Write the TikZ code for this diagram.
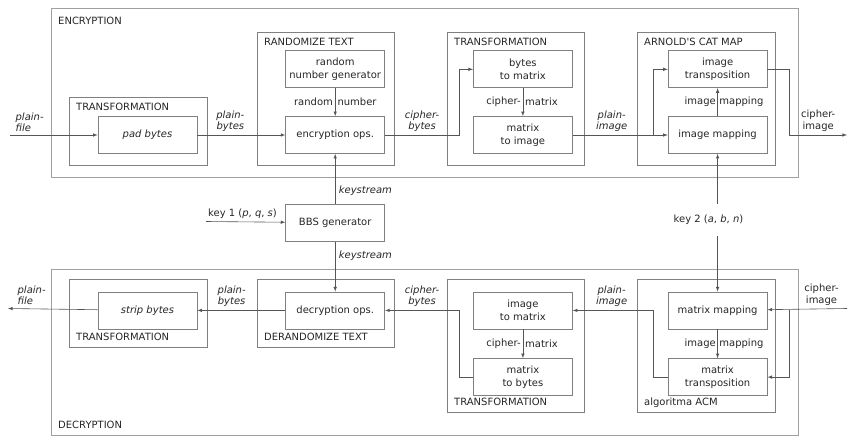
\documentclass[tikz,border=0pt]{standalone}
\usepackage{fontspec}
\setmainfont{DejaVu Sans}
\usepackage{tikz}
\usetikzlibrary{arrows, positioning, calc}
\definecolor{linegray}{HTML}{555555}
\definecolor{boxgray}{HTML}{808080}
\definecolor{framegray}{HTML}{A0A0A0}
\tikzstyle{arrow} = [->, >=latex, draw=linegray, line width=0.6pt]
\tikzstyle{opbox} = [rectangle, draw=boxgray, line width=0.7pt, minimum width=99pt, minimum height=37pt, align=center, text centered]
\tikzstyle{groupbox} = [draw=boxgray, line width=0.7pt]
\tikzstyle{outerbox} = [draw=framegray, line width=1pt]
\tikzstyle{title} = [inner xsep=7pt, inner ysep=6pt, text depth=0pt]
\tikzstyle{flowlabel} = [align=center, font=\fontsize{10pt}{11pt}\selectfont\itshape]
\tikzstyle{flowtext} = [align=center, font=\fontsize{10pt}{11.5pt}\selectfont]

\begin{document}
\begin{tikzpicture}[x=1pt, y=-1pt, node distance=28pt, font=\fontsize{10pt}{13.5pt}\selectfont, text=black!85]
  \useasboundingbox (0,0) rectangle (852,442);

  % Frames
  \draw[outerbox] (51,8) rectangle (798,177);
  \draw[outerbox] (51,269) rectangle (798,435);
  \draw[groupbox] (69,97) rectangle (207,165);
  \draw[groupbox] (257,32) rectangle (394,165);
  \draw[groupbox] (447,32) rectangle (584,165);
  \draw[groupbox] (637,32) rectangle (775,165);
  \draw[groupbox] (69,279) rectangle (207,347);
  \draw[groupbox] (257,279) rectangle (394,347);
  \draw[groupbox] (447,279) rectangle (584,412);
  \draw[groupbox] (637,279) rectangle (775,412);

  % Titles
  \node (enctitle) [title, inner ysep=9pt, anchor=north west] at (51,8) {ENCRYPTION};
  \node (t1title) [title, anchor=north west] at (69,97) {TRANSFORMATION};
  \node (rttitle) [title, anchor=north west] at (257,32) {RANDOMIZE TEXT};
  \node (t2title) [title, anchor=north west] at (447,32) {TRANSFORMATION};
  \node (acmtitle) [title, anchor=north west] at (637,32) {ARNOLD\textquotesingle S CAT MAP};
  \node (dectitle) [title, anchor=south west] at (51,435) {DECRYPTION};
  \node (t3title) [title, anchor=south west] at (69,347) {TRANSFORMATION};
  \node (dttitle) [title, anchor=south west] at (257,347) {DERANDOMIZE TEXT};
  \node (t4title) [title, anchor=south west] at (447,412) {TRANSFORMATION};
  \node (acm2title) [title, anchor=south west] at (637,412) {algoritma ACM};

  % Encryption nodes
  \node (pad) [opbox] at (147.5,135) {\textit{pad bytes}};
  \node (encops) [opbox, right=88pt of pad] {encryption ops.};
  \node (rng) [opbox, above=of encops] {random\\number generator};
  \node (m2i) [opbox, right=88pt of encops] {matrix\\to image};
  \node (b2m) [opbox, above=of m2i] {bytes\\to matrix};
  \node (imap) [opbox, right=95pt of m2i] {image mapping};
  \node (itrans) [opbox, above=of imap] {image\\transposition};
  \coordinate (pfin) at (10,135);
  \coordinate (ciout) at (847,135);

  % Key nodes
  \node (bbs) [opbox, below=50pt of encops] {BBS generator};
  \coordinate (key1) at (206,221.5);
  \node (key2) [inner ysep=11pt] at (708.5,220) {key 2 (\textit{a}, \textit{b}, \textit{n})};

  % Decryption nodes
  \node (decops) [opbox, below=50pt of bbs] {decryption ops.};
  \node (strip) [opbox, left=88pt of decops] {\textit{strip bytes}};
  \node (i2m) [opbox, right=88pt of decops] {image\\to matrix};
  \node (m2b) [opbox, below=29pt of i2m] {matrix\\to bytes};
  \node (mmap) [opbox, right=95pt of i2m] {matrix mapping};
  \node (mtrans) [opbox, below=29pt of mmap] {matrix\\transposition};
  \coordinate (pfout) at (8,308.5);
  \coordinate (ciin) at (847,308.5);

  % Encryption arrows
  \draw[arrow] (pfin) -- node[flowlabel, align=left, above right, pos=0, xshift=2pt] (pflbl1) {plain-\\file} (pad);
  \draw[arrow] (pad) -- node[flowlabel, above, pos=0.375] (pblbl1) {plain-\\bytes} (encops);
  \draw[arrow] (rng) -- node[left, inner xsep=2pt] (rnlbl1) {random} node[right, inner xsep=2pt] (rnlbl2) {number} (encops);
  \draw[arrow] (encops.east) -- node[flowlabel, above] (cblbl1) {cipher-\\bytes} ++(74pt,0) |- (b2m);
  \draw[arrow] (b2m) -- node[left, inner xsep=2pt] (cmlbl1) {cipher-} node[right, inner xsep=2pt] (cmlbl2) {matrix} (m2i);
  \draw[arrow] (m2i) -- node[flowlabel, above, pos=0.41] (pilbl1) {plain-\\image} (imap);
  \draw[arrow] ($(imap.west)+(-14pt,0)$) |- (itrans);
  \draw[arrow] (imap) -- node[left, inner xsep=1.5pt] (imlbl1) {image} node[right, inner xsep=1.5pt] (imlbl2) {mapping} (itrans);
  \draw[arrow] (itrans.east) -- ++(22pt,0) |- node[flowtext, above, pos=0.75] (cilbl1) {cipher-\\image} (ciout);

  % Keys
  \draw[arrow] (key1) -- node[above, pos=0.46] (k1lbl) {key 1 (\textit{p}, \textit{q}, \textit{s})} (bbs);
  \draw[arrow] (bbs) -- node[flowlabel, right, pos=0.26] (kslbl1) {keystream} (encops);
  \draw[arrow] (bbs) -- node[flowlabel, right, pos=0.28] (kslbl2) {keystream} (decops);
  \draw[arrow] (key2.north -| imap) -- (imap);
  \draw[arrow] (key2.south -| mmap) -- (mmap);

  % Decryption arrows
  \draw[arrow] (ciin) -- node[flowtext, above, pos=0.32] (cilbl2) {cipher-\\image} (mmap);
  \draw[arrow] ($(mmap.east)+(22pt,0)$) |- (mtrans);
  \draw[arrow] (mmap) -- node[left, inner xsep=1.5pt] (imlbl3) {image} node[right, inner xsep=1.5pt] (imlbl4) {mapping} (mtrans);
  \draw[arrow] (mtrans.west) -- ++(-14pt,0) |- node[flowlabel, above, pos=0.76] (pilbl2) {plain-\\image} (i2m);
  \draw[arrow] (i2m) -- node[left, inner xsep=2pt] (cmlbl3) {cipher-} node[right, inner xsep=2pt] (cmlbl4) {matrix} (m2b);
  \draw[arrow] (m2b.west) -- ++(-14pt,0) |- node[flowlabel, above, pos=0.75] (cblbl2) {cipher-\\bytes} (decops);
  \draw[arrow] (decops) -- node[flowlabel, above, pos=0.61] (pblbl2) {plain-\\bytes} (strip);
  \draw[arrow] (strip) -- node[flowlabel, align=left, above right, pos=1, xshift=6pt] (pflbl2) {plain-\\file} (pfout);

\end{tikzpicture}
\end{document}
